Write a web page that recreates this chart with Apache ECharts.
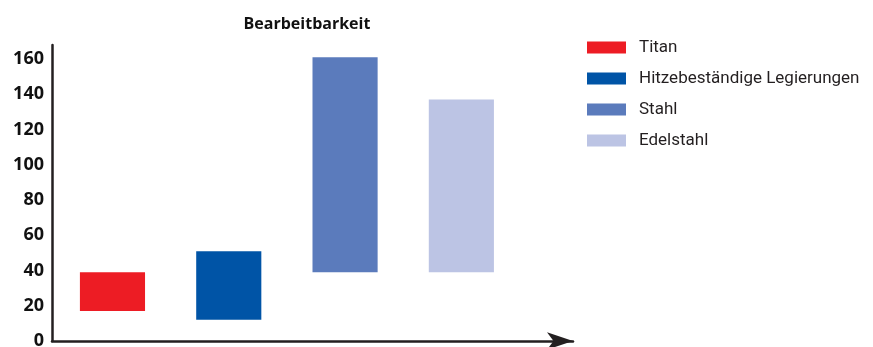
<!DOCTYPE html>
<html>
<head>
<meta charset="utf-8">
<script src="https://cdn.jsdelivr.net/npm/echarts@6/dist/echarts.min.js"></script>
<style>
  html, body { margin: 0; padding: 0; background: #fff; }
  #chart { width: 873px; height: 347px; }
</style>
</head>
<body>
<div id="chart"></div>
<script>
// floating bars: each material spans low..high
var categories = ["Titan", "Hitzebeständige Legierungen", "Stahl", "Edelstahl"];
var lowValues = [17, 12, 39, 39];
var highValues = [39, 51, 161, 137];
var colors = ["#ED1C24", "#0054A6", "#5B7BBC", "#BCC4E4"];
var yTicks = [0, 20, 40, 60, 80, 100, 120, 140, 160];

var chart = echarts.init(document.getElementById("chart"));

function renderRange(params, api) {
  var x = api.value(0);
  var top = api.coord([x, api.value(2)]);
  var bottom = api.coord([x, api.value(1)]);
  var w = api.size([0.56, 0])[0];
  return {
    type: "rect",
    shape: { x: top[0] - w / 2, y: top[1], width: w, height: bottom[1] - top[1] },
    style: { fill: api.visual("color") }
  };
}

var series = categories.map(function (name, i) {
  return {
    name: name,
    type: "custom",
    renderItem: renderRange,
    itemStyle: { color: colors[i] },
    encode: { x: 0, y: [1, 2] },
    data: [[i + 1, lowValues[i], highValues[i]]]
  };
});

chart.setOption({
  animation: false,
  title: {
    text: "Bearbeitbarkeit",
    left: 302,
    textAlign: "center",
    top: 11,
    textStyle: { fontFamily: "Open Sans", fontWeight: "bold", fontSize: 16, color: "#111" }
  },
  legend: {
    orient: "vertical",
    left: 587,
    top: 39,
    padding: 0,
    icon: "rect",
    itemWidth: 39,
    itemHeight: 12,
    itemGap: 14,
    textStyle: { fontFamily: "Roboto", fontSize: 17, color: "#231F20", padding: [0, 0, 0, 8] },
    selectedMode: false
  },
  grid: { left: 52, right: 300, top: 45, bottom: 6, containLabel: false, outerBoundsMode: "none" },
  xAxis: {
    type: "value",
    min: 0.48,
    max: 4.96,
    axisLine: {
      show: true,
      symbol: ["none", "arrow"],
      symbolSize: [13, 26],
      lineStyle: { color: "#231F20", width: 2.5 }
    },
    axisTick: { show: false },
    axisLabel: { show: false },
    splitLine: { show: false }
  },
  yAxis: {
    type: "value",
    min: yTicks[0],
    max: 168,
    interval: yTicks[1] - yTicks[0],
    axisLine: { show: true, lineStyle: { color: "#231F20", width: 2.5 } },
    axisTick: { show: false },
    splitLine: { show: false },
    axisLabel: {
      showMaxLabel: false,
      margin: 8,
      fontFamily: "Open Sans",
      fontWeight: "bold",
      fontSize: 18,
      color: "#111"
    }
  },
  series: series
});
</script>
</body>
</html>
